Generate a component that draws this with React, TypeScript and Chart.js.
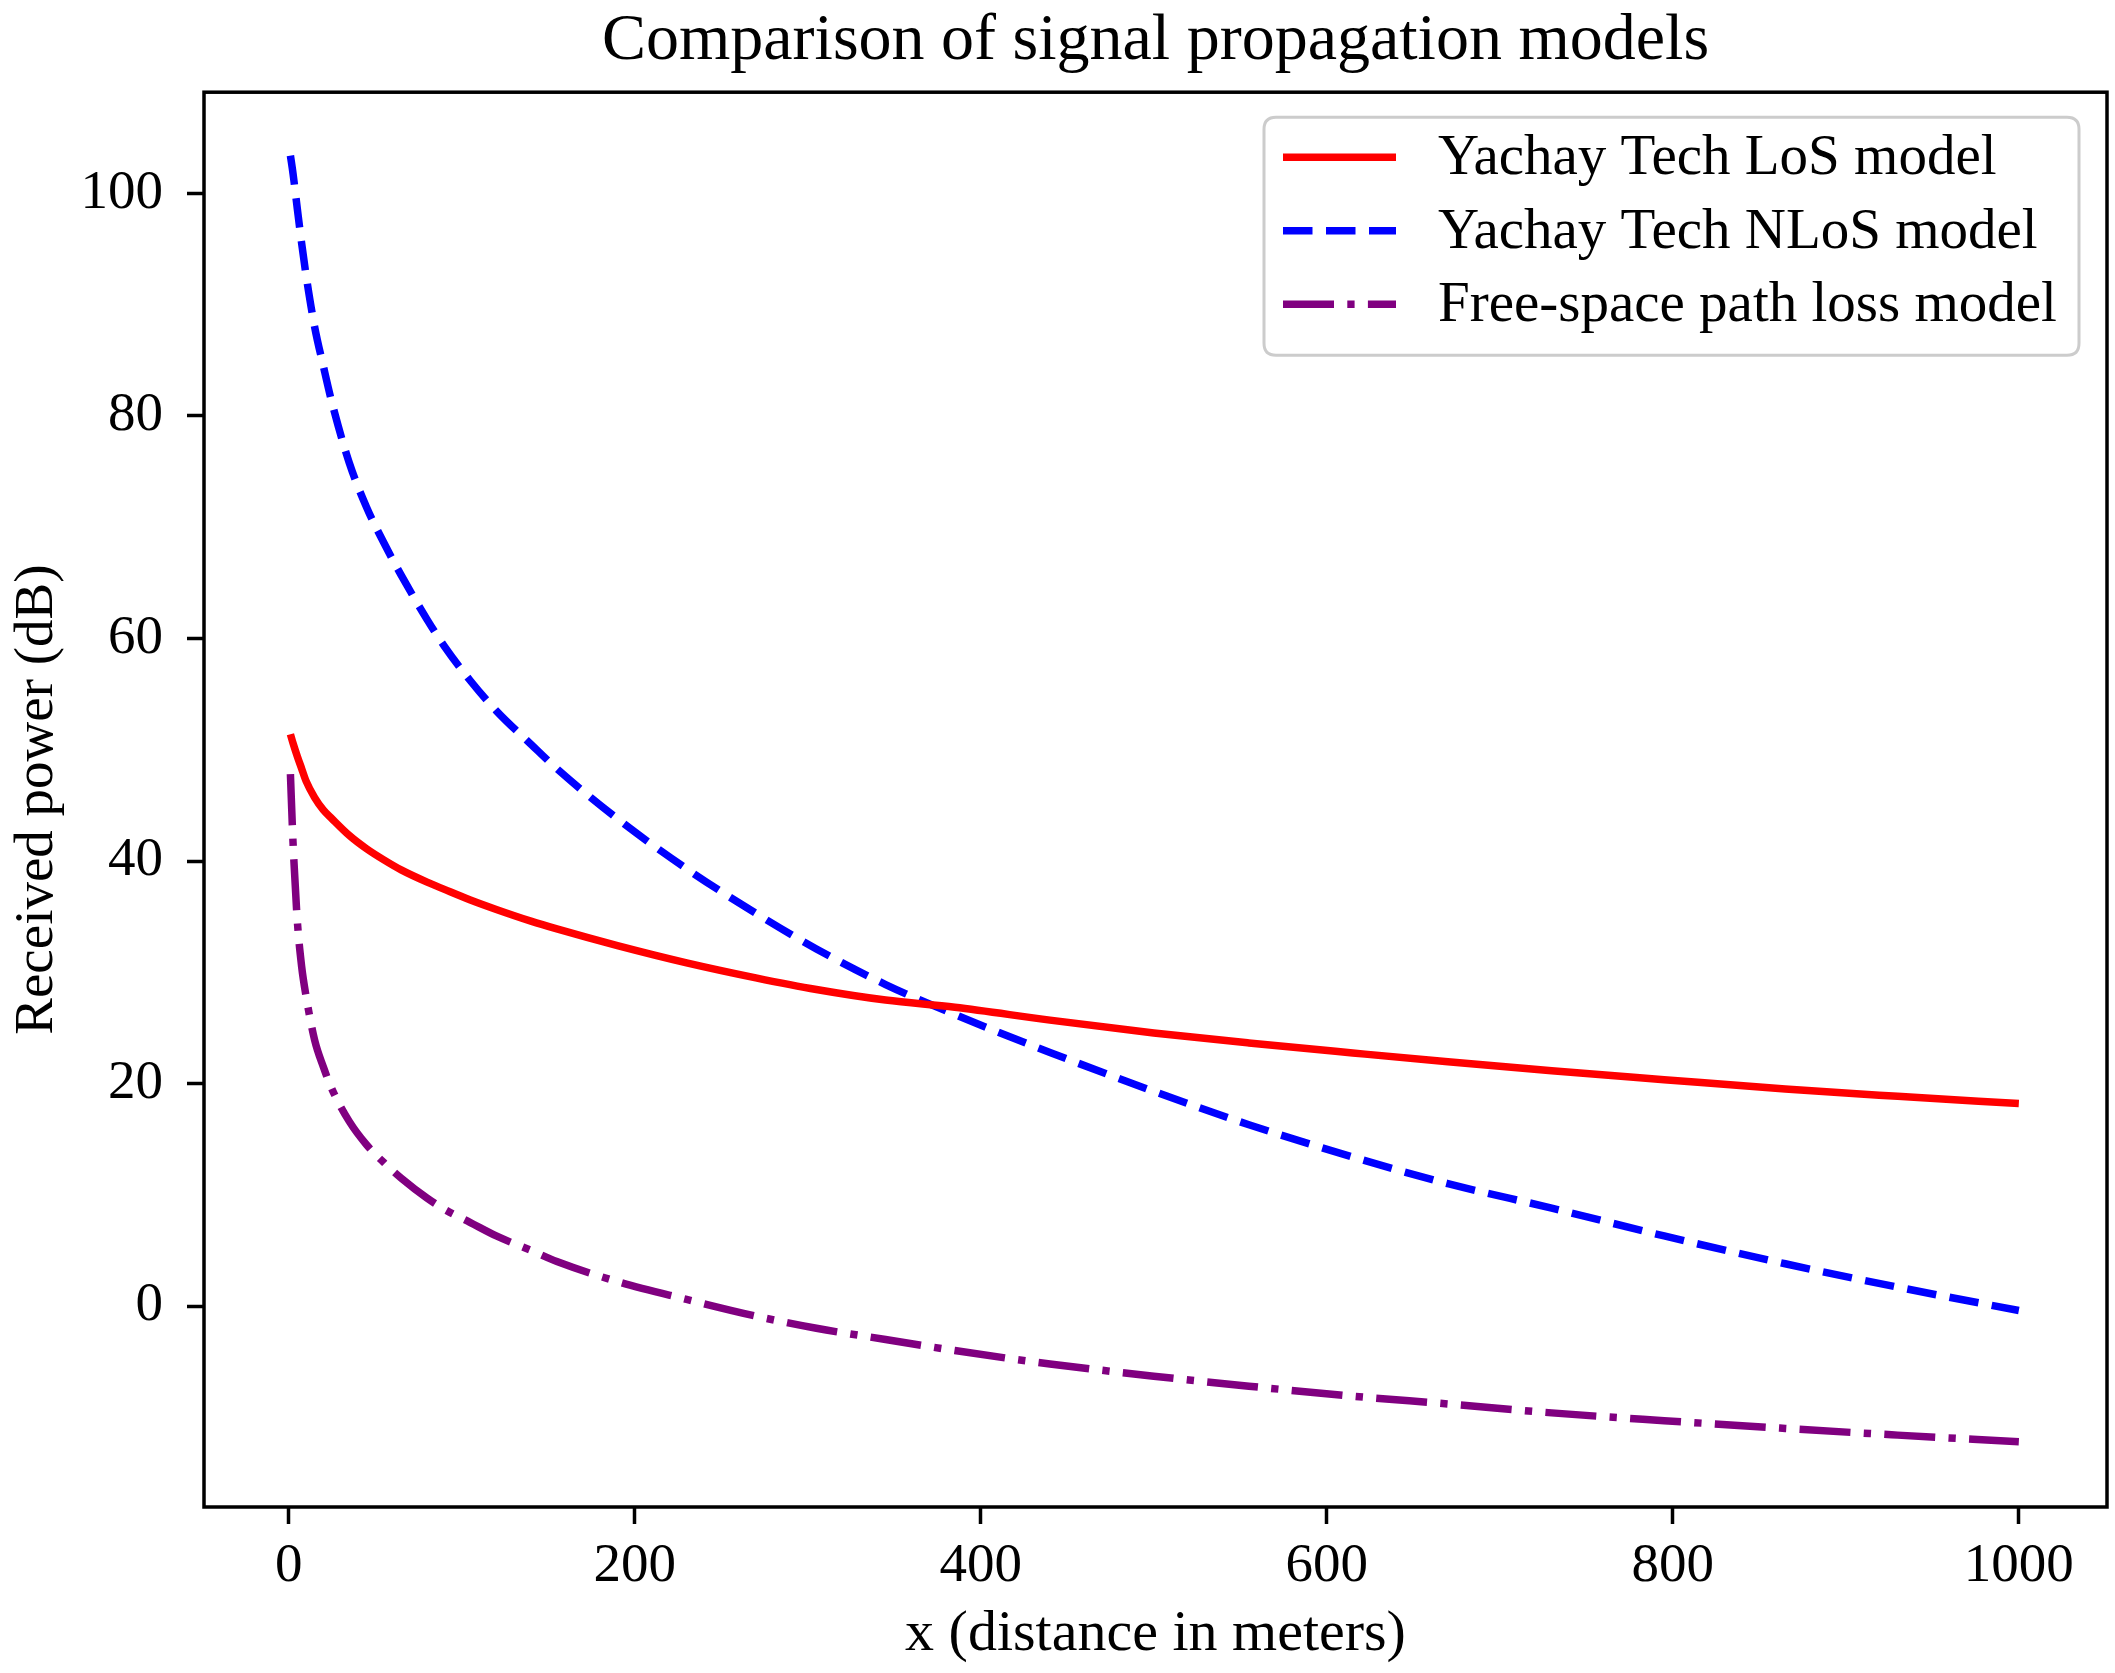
import React, { useEffect, useRef } from "react";
import { Chart, registerables } from "chart.js";

Chart.register(...registerables);

// ---- data ----
const DISTANCE = [1, 2.5, 5, 7.5, 10, 15, 20, 25, 35, 45, 55, 65, 80, 90, 105, 120, 140, 155, 190, 230, 270, 305, 345, 385, 440, 500, 555, 615, 670, 730, 795, 865, 930, 1000];
const LOS = [51.4, 50.6, 49.4, 48.3, 47.2, 45.7, 44.6, 43.8, 42.3, 41.1, 40.1, 39.2, 38.1, 37.45, 36.5, 35.65, 34.6, 33.9, 32.4, 30.85, 29.5, 28.45, 27.5, 26.85, 25.7, 24.55, 23.65, 22.75, 21.95, 21.15, 20.35, 19.5, 18.85, 18.2];
const NLOS = [103.4, 101.8, 98.6, 95.5, 92.7, 88.0, 84.5, 81.2, 75.8, 71.8, 68.6, 65.7, 61.7, 59.3, 56.2, 53.5, 50.5, 48.3, 43.8, 39.3, 35.3, 32.1, 28.9, 26.2, 22.8, 19.3, 16.3, 13.4, 11.0, 8.8, 6.3, 3.8, 1.7, -0.4];
const FSPL = [47.8, 41.7, 34.6, 30.5, 27.9, 23.9, 21.5, 19.5, 16.6, 14.5, 12.9, 11.5, 9.7, 8.7, 7.5, 6.3, 5.0, 4.0, 2.2, 0.6, -0.9, -2.0, -3.0, -4.0, -5.2, -6.3, -7.2, -8.1, -8.8, -9.6, -10.3, -11.0, -11.6, -12.2];
const SERIES_NAMES = ["Yachay Tech LoS model", "Yachay Tech NLoS model", "Free-space path loss model"];
const X_TICKS = [0, 200, 400, 600, 800, 1000];
const Y_TICKS = [0, 20, 40, 60, 80, 100];
const TITLE = "Comparison of signal propagation models";
const X_LABEL = "x (distance in meters)";
const Y_LABEL = "Received power (dB)";

const FONT = "'Liberation Serif', 'Times New Roman', serif";
const W = 2115;
const H = 1673;

const framePlugin = {
  id: "frame",
  afterDatasetsDraw(chart: any) {
    const { ctx, chartArea: a } = chart;
    ctx.save();
    ctx.strokeStyle = "#000";
    ctx.lineWidth = 3.5;
    ctx.setLineDash([]);
    ctx.strokeRect(a.left, a.top, a.right - a.left, a.bottom - a.top);
    ctx.restore();
  },
};

const legendPlugin = {
  id: "boxLegend",
  afterDraw(chart: any) {
    const { ctx, chartArea: a } = chart;
    const right = a.right - 28;
    const top = a.top + 25;
    const w = 815;
    const h = 238;
    const left = right - w;
    const r = 12;
    ctx.save();
    ctx.beginPath();
    ctx.moveTo(left + r, top);
    ctx.lineTo(left + w - r, top);
    ctx.quadraticCurveTo(left + w, top, left + w, top + r);
    ctx.lineTo(left + w, top + h - r);
    ctx.quadraticCurveTo(left + w, top + h, left + w - r, top + h);
    ctx.lineTo(left + r, top + h);
    ctx.quadraticCurveTo(left, top + h, left, top + h - r);
    ctx.lineTo(left, top + r);
    ctx.quadraticCurveTo(left, top, left + r, top);
    ctx.closePath();
    ctx.fillStyle = "rgba(255,255,255,0.8)";
    ctx.fill();
    ctx.strokeStyle = "#cccccc";
    ctx.lineWidth = 3;
    ctx.stroke();

    chart.data.datasets.forEach((ds: any, i: number) => {
      const y = top + 40 + i * 73.5;
      ctx.beginPath();
      ctx.strokeStyle = ds.borderColor;
      ctx.lineWidth = ds.borderWidth;
      ctx.lineCap = "butt";
      ctx.setLineDash(ds.borderDash || []);
      ctx.moveTo(left + 19, y);
      ctx.lineTo(left + 132, y);
      ctx.stroke();
      ctx.setLineDash([]);
      ctx.fillStyle = "#000";
      ctx.font = `57px ${FONT}`;
      ctx.textAlign = "left";
      ctx.textBaseline = "middle";
      ctx.fillText(ds.label, left + 174, y + 2);
    });
    ctx.restore();
  },
};

export default function App() {
  const ref = useRef<HTMLCanvasElement | null>(null);

  useEffect(() => {
    document.body.style.margin = "0";
    const canvas = ref.current;
    if (!canvas) return;
    const mk = (ys: number[]) => DISTANCE.map((x, i) => ({ x, y: ys[i] }));
    const chart = new Chart(canvas, {
      type: "line",
      data: {
        datasets: [
          { label: SERIES_NAMES[0], data: mk(LOS), borderColor: "#ff0000", borderWidth: 7.5, borderDash: [] },
          { label: SERIES_NAMES[1], data: mk(NLOS), borderColor: "#0000ff", borderWidth: 7.5, borderDash: [29.5, 13.5] },
          { label: SERIES_NAMES[2], data: mk(FSPL), borderColor: "#800080", borderWidth: 7.5, borderDash: [51, 13.3, 7.3, 13.3] },
        ] as any,
      },
      options: {
        responsive: false,
        animation: false,
        parsing: false as any,
        layout: { padding: { left: 0, right: 8, top: 0, bottom: 0 } },
        elements: {
          point: { radius: 0 },
          line: { cubicInterpolationMode: "monotone", borderCapStyle: "butt", borderJoinStyle: "round" },
        },
        plugins: {
          legend: { display: false },
          tooltip: { enabled: false },
          title: {
            display: true,
            text: TITLE,
            fullSize: false,
            color: "#000",
            font: { family: FONT, size: 66, weight: "normal", lineHeight: 1.2 },
            padding: { top: 2, bottom: 11 },
          },
        },
        scales: {
          x: {
            type: "linear",
            min: -48.95,
            max: 1050.95,
            afterFit(scale: any) {
              scale.height = 166;
            },
            afterBuildTicks(scale: any) {
              scale.ticks = X_TICKS.map((v) => ({ value: v }));
            },
            border: { display: false },
            grid: { display: true, drawOnChartArea: false, drawTicks: true, tickLength: 17, tickWidth: 3.5, tickColor: "#000", color: "#000" },
            ticks: {
              color: "#000",
              font: { family: FONT, size: 55 },
              padding: 10,
              maxRotation: 0,
              autoSkip: false,
              callback: (v: any) => String(v),
            },
            title: {
              display: true,
              text: X_LABEL,
              color: "#000",
              font: { family: FONT, size: 58, lineHeight: 1.2 },
              padding: { top: 0, bottom: 3 },
            },
          },
          y: {
            type: "linear",
            min: -18.06,
            max: 109.1,
            afterFit(scale: any) {
              scale.width = 204;
            },
            afterBuildTicks(scale: any) {
              scale.ticks = Y_TICKS.map((v) => ({ value: v }));
            },
            border: { display: false },
            grid: { display: true, drawOnChartArea: false, drawTicks: true, tickLength: 17, tickWidth: 3.5, tickColor: "#000", color: "#000" },
            ticks: {
              color: "#000",
              font: { family: FONT, size: 55 },
              padding: 24,
              autoSkip: false,
              callback: (v: any) => String(v),
            },
            title: {
              display: true,
              text: Y_LABEL,
              color: "#000",
              font: { family: FONT, size: 55, lineHeight: 1.2 },
              padding: { top: 5, bottom: 0 },
            },
          },
        },
      } as any,
      plugins: [framePlugin, legendPlugin],
    });
    return () => chart.destroy();
  }, []);

  return (
    <div style={{ position: "fixed", left: 0, top: 0, width: W, height: H, background: "#fff" }}>
      <canvas ref={ref} width={W} height={H} style={{ width: W, height: H, display: "block" }} />
    </div>
  );
}
